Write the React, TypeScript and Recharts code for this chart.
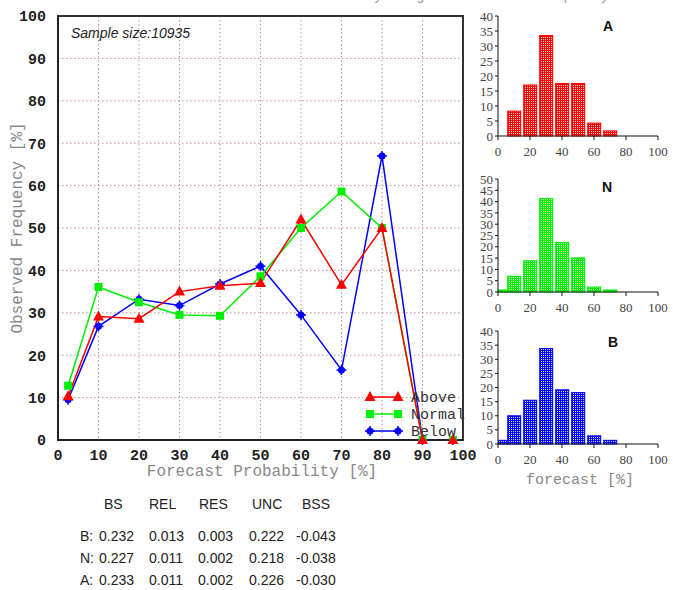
import { LineChart, Line, XAxis, YAxis, CartesianGrid, ReferenceArea, BarChart, Bar } from 'recharts'

// reliability curves (observed frequency % per forecast probability bin)
const probs = [2.5, 10, 20, 30, 40, 50, 60, 70, 80, 90, 97.5]
const above = [10.3, 29.1, 28.6, 35, 36.4, 37, 52, 36.6, 50, 0, 0]
const normal = [12.8, 36.1, 32.5, 29.5, 29.3, 38.6, 50, 58.6, 50, 0, 0]
const below = [9.5, 26.8, 33.2, 31.7, 36.8, 41, 29.5, 16.5, 67, 0, 0]

const probTicks = [0, 10, 20, 30, 40, 50, 60, 70, 80, 90, 100]
const innerTicks = [5, 15, 25, 35, 45, 55, 65, 75, 85, 95]

// forecast frequency histograms (%)
const histBins = [2.5, 10, 20, 30, 40, 50, 60, 70]
const histA = [0, 8.3, 17, 33.5, 17.5, 17.5, 4.3, 1.7]
const histN = [0.9, 7, 13.8, 41.4, 21.9, 15.1, 2.2, 0.9]
const histB = [1.3, 10, 15.5, 33.8, 19.2, 18.2, 2.9, 1.3]
const histXTicks = [0, 20, 40, 60, 80, 100]
const histTicks40 = [0, 5, 10, 15, 20, 25, 30, 35, 40]
const histTicks50 = [0, 5, 10, 15, 20, 25, 30, 35, 40, 45, 50]

// Brier score table
const statCols = ['BS', 'REL', 'RES', 'UNC', 'BSS']
const statRowNames = ['B:', 'N:', 'A:']
const statB = ['0.232', '0.013', '0.003', '0.222', '-0.043']
const statN = ['0.227', '0.011', '0.002', '0.218', '-0.038']
const statA = ['0.233', '0.011', '0.002', '0.226', '-0.030']

const sampleSize = 10935

const reliability = probs.map((p, i) => ({ p, above: above[i], normal: normal[i], below: below[i] }))

const RED = '#ff0000'
const GREEN = '#00ee00'
const BLUE = '#0000ff'

const MONO = '"Liberation Mono", "DejaVu Sans Mono", monospace'
const SANS = '"Liberation Sans", Arial, sans-serif'
const SERIF = '"Liberation Serif", "DejaVu Serif", serif'

function TriangleMark({ cx, cy, color }: any) {
  if (cx == null || cy == null) return null
  return <polygon points={`${cx},${cy - 6} ${cx - 5.5},${cy + 4} ${cx + 5.5},${cy + 4}`} fill={color} />
}

function SquareMark({ cx, cy, color }: any) {
  if (cx == null || cy == null) return null
  return <rect x={cx - 4} y={cy - 4} width={8} height={8} fill={color} />
}

function StarMark({ cx, cy, color }: any) {
  if (cx == null || cy == null) return null
  return (
    <g>
      <circle cx={cx} cy={cy} r={3.5} fill={color} />
      <line x1={cx - 5} y1={cy} x2={cx + 5} y2={cy} stroke={color} strokeWidth={1.5} />
      <line x1={cx} y1={cy - 5} x2={cx} y2={cy + 5} stroke={color} strokeWidth={1.5} />
    </g>
  )
}

const series = [
  { key: 'above', name: 'Above', color: RED, Mark: TriangleMark },
  { key: 'normal', name: 'Normal', color: GREEN, Mark: SquareMark },
  { key: 'below', name: 'Below', color: BLUE, Mark: StarMark },
]

const tickStyle = { fontFamily: MONO, fontWeight: 'bold', fontSize: 15, fill: '#222' }

function ReliabilityChart() {
  // draw Below first so Above sits on top
  const drawOrder = [...series].reverse()
  return (
    <LineChart width={480} height={475} data={reliability} margin={{ top: 16, right: 17, bottom: 0, left: 0 }}>
      <CartesianGrid stroke="#c49090" strokeDasharray="1.5 2.5" />
      <XAxis
        dataKey="p"
        type="number"
        domain={[0, 100]}
        ticks={probTicks}
        interval={0}
        height={35}
        tickLine={false}
        tickMargin={3}
        axisLine={{ stroke: '#222', strokeWidth: 2 }}
        tick={tickStyle}
      />
      <YAxis
        type="number"
        domain={[0, 100]}
        ticks={probTicks}
        interval={0}
        width={58}
        tickLine={false}
        tickMargin={6}
        axisLine={{ stroke: '#222', strokeWidth: 2 }}
        tick={tickStyle}
      />
      <YAxis
        yAxisId="inner"
        orientation="right"
        mirror
        width={0}
        type="number"
        domain={[0, 100]}
        ticks={innerTicks}
        interval={0}
        tick={false}
        tickSize={2}
        tickLine={{ stroke: '#333', strokeWidth: 1.5 }}
        axisLine={false}
      />
      <ReferenceArea x1={0} x2={100} y1={0} y2={100} fill="none" stroke="#333" strokeWidth={2} ifOverflow="visible" />
      {drawOrder.map(s => (
        <Line
          key={s.key}
          dataKey={s.key}
          name={s.name}
          type="linear"
          stroke={s.color}
          strokeWidth={1.5}
          dot={(props: any) => <s.Mark key={`${s.key}-${props.index}`} cx={props.cx} cy={props.cy} color={s.color} />}
          activeDot={false}
          isAnimationActive={false}
        />
      ))}
    </LineChart>
  )
}

function Histogram({ id, values, ticks, color, light, plotTop, plotBottom }: any) {
  const H = 170
  const data = histBins.map((f, i) => ({ f, v: values[i] }))
  const max = ticks[ticks.length - 1]
  const shape = (props: any) => {
    const { x, y, width, height } = props
    if (!height || height <= 0) return <g />
    const cx = x + width / 2
    return <rect x={cx - 6.5} y={y} width={13} height={height} fill={`url(#dots-${id})`} stroke={color} strokeWidth={1} />
  }
  return (
    <BarChart width={200} height={H} data={data} margin={{ top: plotTop, right: 12, bottom: H - plotBottom - 30, left: 0 }}>
      <defs>
        <pattern id={`dots-${id}`} width={2} height={2} patternUnits="userSpaceOnUse">
          <rect width={2} height={2} fill={color} />
          <rect x={1} y={1} width={1} height={1} fill={light} />
        </pattern>
      </defs>
      <XAxis
        dataKey="f"
        type="number"
        domain={[0, 100]}
        ticks={histXTicks}
        interval={0}
        allowDataOverflow
        height={30}
        tickSize={4}
        tickMargin={7}
        axisLine={{ stroke: '#111' }}
        tickLine={{ stroke: '#111' }}
        tick={{ fontFamily: SERIF, fontSize: 13, fill: '#444' }}
      />
      <YAxis
        type="number"
        domain={[0, max]}
        ticks={ticks}
        interval={0}
        width={28}
        tickSize={3}
        tickMargin={2}
        axisLine={{ stroke: '#111' }}
        tickLine={{ stroke: '#111' }}
        tick={{ fontFamily: SERIF, fontSize: 13, fill: '#444' }}
      />
      <Bar dataKey="v" fill={color} shape={shape} isAnimationActive={false} />
    </BarChart>
  )
}

function Overlay() {
  const statRows = [statB, statN, statA]
  const colX = [99, 149, 198, 249, 296]
  const headX = [104, 149, 199, 252, 302]
  const legendY = [397, 414, 431]
  return (
    <svg width={673} height={590} style={{ position: 'absolute', left: 0, top: 0, pointerEvents: 'none' }}>
      <text x={290} y={0} fontFamily={MONO} fontSize={14} fill="#999">Reliability diagram                Forecast frequency distribution</text>
      <text x={71} y={38} fontFamily={SANS} fontStyle="italic" fontSize={14} fill="#222">{`Sample size:${sampleSize}`}</text>
      <text
        x={0}
        y={0}
        transform="translate(22,228) rotate(-90)"
        textAnchor="middle"
        fontFamily={MONO}
        fontSize={16}
        fill="#888"
      >
        Observed Frequency [%]
      </text>
      <text x={262} y={476} textAnchor="middle" fontFamily={MONO} fontSize={16} fill="#888">
        Forecast Probability [%]
      </text>

      {series.map((s, i) => (
        <g key={s.key}>
          <line x1={370} y1={legendY[i]} x2={398} y2={legendY[i]} stroke={s.color} strokeWidth={1.5} />
          <s.Mark cx={370} cy={legendY[i]} color={s.color} />
          <s.Mark cx={398} cy={legendY[i]} color={s.color} />
          <text x={411} y={legendY[i] + 5} fontFamily={MONO} fontSize={15} fill="#333">{s.name}</text>
        </g>
      ))}

      <text x={603} y={31} fontFamily={SANS} fontWeight="bold" fontSize={14} fill="#111">A</text>
      <text x={602} y={192} fontFamily={SANS} fontWeight="bold" fontSize={14} fill="#111">N</text>
      <text x={608} y={347} fontFamily={SANS} fontWeight="bold" fontSize={14} fill="#111">B</text>
      <text x={580} y={484} textAnchor="middle" fontFamily={MONO} fontSize={15} fill="#888">forecast [%]</text>

      {statCols.map((c, i) => (
        <text key={c} x={headX[i]} y={509} fontFamily={SANS} fontSize={14} fill="#222">{c}</text>
      ))}
      {statRows.map((row, r) => (
        <g key={statRowNames[r]}>
          <text x={80} y={541 + r * 22} fontFamily={SANS} fontSize={14} fill="#222">{statRowNames[r]}</text>
          {row.map((v, i) => (
            <text key={i} x={colX[i]} y={541 + r * 22} fontFamily={SANS} fontSize={14} fill="#222">{v}</text>
          ))}
        </g>
      ))}
    </svg>
  )
}

export default function App() {
  return (
    <div style={{ position: 'absolute', left: 0, top: 0, width: 673, height: 590, background: '#fff', overflow: 'hidden' }}>
      <div style={{ position: 'absolute', left: 0, top: 0 }}>
        <ReliabilityChart />
      </div>
      <div style={{ position: 'absolute', left: 470, top: 0 }}>
        <Histogram id="a" values={histA} ticks={histTicks40} color={RED} light="#ffd0d0" plotTop={16} plotBottom={136} />
      </div>
      <div style={{ position: 'absolute', left: 470, top: 160 }}>
        <Histogram id="n" values={histN} ticks={histTicks50} color={GREEN} light="#d0ffd0" plotTop={19} plotBottom={132} />
      </div>
      <div style={{ position: 'absolute', left: 470, top: 310 }}>
        <Histogram id="b" values={histB} ticks={histTicks40} color={BLUE} light="#d0d0ff" plotTop={21} plotBottom={134} />
      </div>
      <Overlay />
    </div>
  )
}
